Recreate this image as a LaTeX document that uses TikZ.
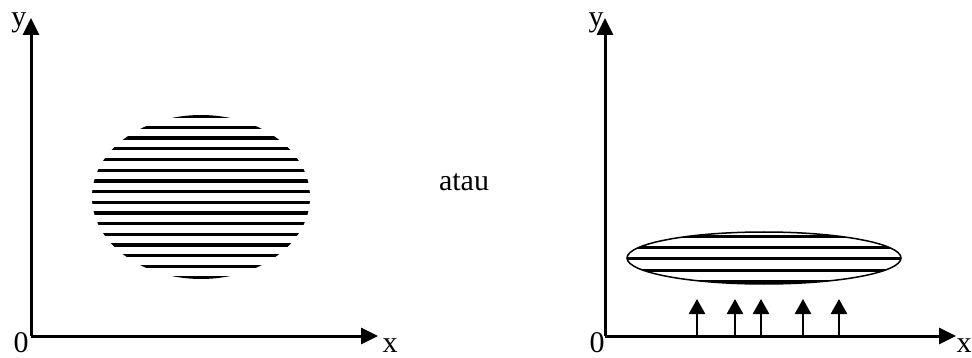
\documentclass[tikz,border=0pt]{standalone}
\usepackage{fontspec}
\setmainfont{Liberation Serif}
\usetikzlibrary{arrows.meta}
\begin{document}
\begin{tikzpicture}[x=1pt,y=-1pt,
  axis/.style={line width=3pt,-{Triangle[width=16pt,length=17pt]}},
  force/.style={line width=2.7pt,-{Triangle[width=16pt,length=15pt]}},
  lbl/.style={inner sep=0pt,anchor=base,font=\fontsize{30}{32}\selectfont},
  stripe/.style={line width=3.3pt,black}]
\useasboundingbox (0,0) rectangle (972,358);
% left axes
\coordinate (O1) at (31,336);
\coordinate (Y1) at (31,18);
\coordinate (X1) at (378,336);
\draw[axis] (O1) -- (Y1);
\draw[axis] (O1) -- (X1);
\node[lbl] (ly1) at (19,27) {y};
\node[lbl] (l01) at (21,352) {0};
\node[lbl] (lx1) at (390,352) {x};
% left striped ellipse
\coordinate (E1) at (201,197);
\begin{scope}
  \clip (E1) ellipse [x radius=109, y radius=82];
  \foreach \k in {0,...,15}{
    \draw[stripe] (80,{116.7+10.7*\k}) -- (330,{116.7+10.7*\k});
  }
\end{scope}
% middle text
\node[lbl] (atau) at (464,191) {atau};
% right axes
\coordinate (O2) at (605,336);
\coordinate (Y2) at (605,18);
\coordinate (X2) at (956,336);
\draw[axis] (O2) -- (Y2);
\draw[axis] (O2) -- (X2);
\node[lbl] (ly2) at (596,27) {y};
\node[lbl] (l02) at (597,352) {0};
\node[lbl] (lx2) at (964,352) {x};
% right striped ellipse
\coordinate (E2) at (764,258);
\begin{scope}
  \clip (E2) ellipse [x radius=137, y radius=26];
  \foreach \yy in {237,248,259,270,281}{
    \draw[stripe,line width=3pt] (620,\yy) -- (910,\yy);
  }
\end{scope}
\draw[line width=1.5pt] (E2) ellipse [x radius=137, y radius=26];
% upward arrows
\foreach \xx/\n in {697/a,735/b,761/c,803/d,839/e}{
  \coordinate (f\n0) at (\xx,336);
  \coordinate (f\n1) at (\xx,299);
  \draw[force] (f\n0) -- (f\n1);
}
\end{tikzpicture}
\end{document}
